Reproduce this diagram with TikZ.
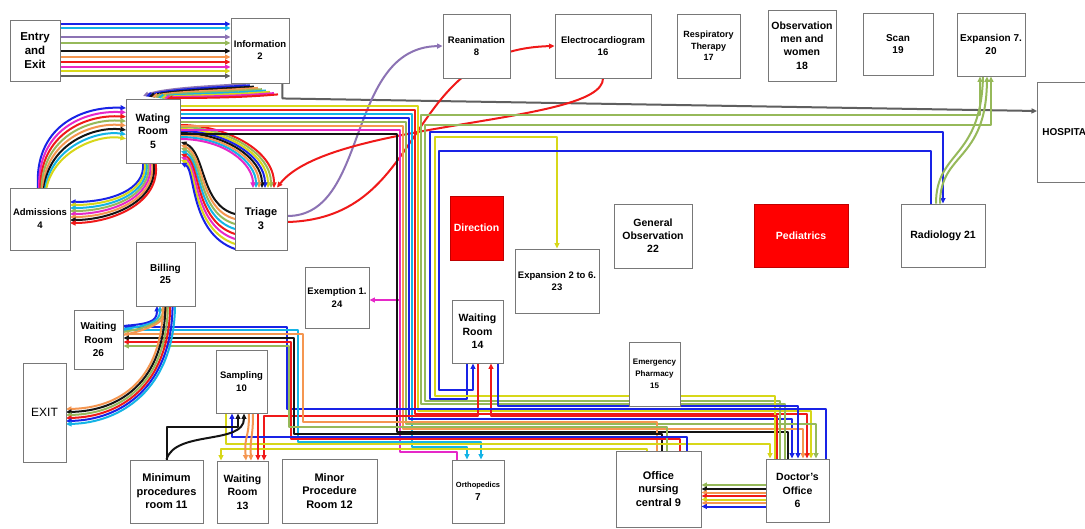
\documentclass[tikz,border=0pt]{standalone}
\usepackage{fontspec}
\setmainfont{Liberation Sans}
\usetikzlibrary{arrows.meta}
\pgfdeclarelayer{bg}
\pgfsetlayers{bg,main}
\definecolor{cB}{RGB}{25,35,230}
\definecolor{cC}{RGB}{20,180,230}
\definecolor{cP}{RGB}{140,115,180}
\definecolor{cG}{RGB}{150,185,90}
\definecolor{cK}{RGB}{20,20,20}
\definecolor{cO}{RGB}{245,150,80}
\definecolor{cR}{RGB}{240,25,25}
\definecolor{cM}{RGB}{230,40,200}
\definecolor{cY}{RGB}{215,215,25}
\definecolor{cGr}{RGB}{95,95,95}
\definecolor{boxc}{RGB}{120,120,120}
\definecolor{dred}{RGB}{255,0,0}
\newcommand\fsz[2]{\fontsize{#1}{#2}\selectfont}
\begin{document}
\begin{tikzpicture}[x=1pt,y=-1pt,
  ln/.style={line width=2pt,line join=round},
  ar/.style={-{Triangle[length=5.5pt,width=5pt]}},
  box/.style={draw=boxc,line width=0.9pt,fill=white,align=center,inner sep=1pt,font=\bfseries\fsz{10}{12.5}},
  rbox/.style={box,fill=dred,draw=dred!75!black,text=white}]
\useasboundingbox (0,0) rectangle (1085,529);
\clip (0,0) rectangle (1085,529);

% ---------- boxes ----------
\node[box,minimum width=50pt,minimum height=61pt,font=\bfseries\fsz{11.5}{14}] (entry) at (35,50.5) {Entry\\and\\Exit};
\node[box,minimum width=58pt,minimum height=65pt,font=\bfseries\fsz{9.5}{12}] (info) at (260,50.5) {Information\\2};
\node[box,minimum width=54pt,minimum height=64pt,font=\bfseries\fsz{10.5}{13.5}] (wr5) at (153,131) {Wating\\Room\\5};
\node[box,minimum width=60pt,minimum height=62pt,font=\bfseries\fsz{9.5}{13}] (adm) at (40,219) {Admissions\\4};
\node[box,minimum width=52pt,minimum height=62pt,font=\bfseries\fsz{11}{14}] (tri) at (261,219) {Triage\\3};
\node[box,minimum width=67pt,minimum height=64pt,font=\bfseries\fsz{9.5}{12}] (rea) at (476.5,46) {Reanimation\\8};
\node[box,minimum width=96pt,minimum height=64pt,font=\bfseries\fsz{9.5}{12}] (ecg) at (603,46) {Electrocardiogram\\16};
\node[box,minimum width=63pt,minimum height=64pt,font=\bfseries\fsz{9}{11.5}] (resp) at (708.5,46) {Respiratory\\Therapy\\17};
\node[box,minimum width=68pt,minimum height=71pt,font=\bfseries\fsz{10.5}{13.4}] (obs) at (802,45.5) {Observation\\men and\\women\\18};
\node[box,minimum width=70pt,minimum height=62pt] (scan) at (898,44) {Scan\\19};
\node[box,minimum width=68pt,minimum height=63pt] (exp7) at (991,44.5) {Expansion 7.\\20};
\node[box,anchor=west,inner xsep=3pt,minimum width=60pt,minimum height=100pt,align=left,text width=50pt] (hosp) at (1037,132) {HOSPITA};
\node[box,minimum width=84pt,minimum height=63pt,font=\bfseries\fsz{10.5}{13}] (rad) at (943,235.5) {Radiology 21};
\node[rbox,minimum width=94pt,minimum height=63pt,font=\bfseries\fsz{10.5}{13}] (ped) at (801,235.5) {Pediatrics};
\node[box,minimum width=78pt,minimum height=64pt,font=\bfseries\fsz{10.5}{13}] (gobs) at (653,236) {General\\Observation\\22};
\node[rbox,minimum width=53pt,minimum height=64pt,font=\bfseries\fsz{10.5}{13}] (dir) at (476.5,228) {Direction};
\node[box,minimum width=84pt,minimum height=64pt,inner sep=0pt,font=\bfseries\fsz{9.5}{12.5}] (exp23) at (557,281) {Expansion 2 to 6.\\23};
\node[box,minimum width=64pt,minimum height=61pt,font=\bfseries\fsz{9.5}{12.5}] (exm) at (337,297.5) {Exemption 1.\\24};
\node[box,minimum width=51pt,minimum height=63pt,font=\bfseries\fsz{10.5}{13.5}] (wr14) at (477.5,331.5) {Waiting\\Room\\14};
\node[box,minimum width=51pt,minimum height=64pt,font=\bfseries\fsz{8}{12}] (pharm) at (654.5,374) {Emergency\\Pharmacy\\15};
\node[box,minimum width=59pt,minimum height=64pt] (bill) at (165.5,274) {Billing\\25};
\node[box,minimum width=49pt,minimum height=59pt,font=\bfseries\fsz{10}{13.5}] (wr26) at (98.5,339.5) {Waiting\\Room\\26};
\node[box,minimum width=43pt,minimum height=99pt,font=\fsz{12}{14}] (exit) at (44.5,412.5) {EXIT};
\node[box,minimum width=51pt,minimum height=63pt,font=\bfseries\fsz{9.5}{12.5}] (samp) at (241.5,381.5) {Sampling\\10};
\node[box,minimum width=73pt,minimum height=63pt,font=\bfseries\fsz{11}{13.5}] (min11) at (166.5,491.5) {Minimum\\procedures\\room 11};
\node[box,minimum width=51pt,minimum height=62pt,font=\bfseries\fsz{10.5}{13.5}] (wr13) at (242.5,492) {Waiting\\Room\\13};
\node[box,minimum width=95pt,minimum height=64pt,font=\bfseries\fsz{11}{13.5}] (minor) at (329.5,491) {Minor\\Procedure\\Room 12};
\node[box,minimum width=52pt,minimum height=63pt,font=\bfseries\fsz{10}{13}] (ortho) at (478,491.5) {{\fsz{7.5}{9}Orthopedics}\\7};
\node[box,minimum width=85pt,minimum height=76pt,font=\bfseries\fsz{11}{13.5}] (off9) at (658.5,489) {Office\\nursing\\central 9};
\node[box,minimum width=63pt,minimum height=63pt,font=\bfseries\fsz{10.5}{13.5}] (doc) at (797.5,490.5) {Doctor's\\Office\\6};

% ---------- connectors ----------
\begin{pgfonlayer}{bg}
\fill[white] (0,0) rectangle (1085,529);
% Entry -> Information
\foreach \y/\c in {24/cB,28/cC,37/cP,43/cG,51/cK,57/cO,62/cR,67/cM,71/cY,76/cGr}
  \draw[ln,ar,\c] (entry.east |- 0,\y) -- (info.west |- 0,\y);
% Information -> Waiting room 5
\foreach \c [count=\i from 0] in {cP,cB,cK,cO,cG,cC,cY,cM,cR}
  \draw[ln,ar,\c] (246+4*\i,84+1.3*\i) .. controls (212+2*\i,86+1.6*\i) and (165+2*\i,88+1.2*\i) .. (143+3*\i,96+0.3*\i);
% Information -> Hospital
\draw[ln,ar,cGr] ([xshift=-7pt]info.south east) -- ++(0,15) -- (hosp.west |- 0,111);
% Admissions <-> Waiting room 5
\foreach \c [count=\i from 0] in {cB,cM,cR,cG,cO,cK,cC,cY}
  \draw[ln,ar,\c] (38+1.2*\i,188) .. controls (34+3*\i,128+3*\i) and (80+3*\i,106+4*\i) .. (126,108+4.4*\i);
\foreach \c [count=\i from 0] in {cB,cY,cC,cG,cM,cO,cK,cR}
  \draw[ln,ar,\c] (143+1.8*\i,163) .. controls (146+2.2*\i,190+2*\i) and (110,202+3*\i) .. (70,202+3*\i);
% Waiting room 5 <-> Triage
\foreach \c [count=\i from 0] in {cR,cG,cY,cB,cK,cO,cC,cM}
  \draw[ln,ar,\c] (180,125+2*\i) .. controls (225,125+2*\i) and (274-3*\i,150+2*\i) .. (274-3*\i,188);
\foreach \c [count=\i from 0] in {cK,cO,cG,cC,cR,cM,cY,cB}
  \draw[ln,ar,\c] (235,214+5*\i) .. controls (200-1.5*\i,205+4*\i) and (206-1.5*\i,152+2.5*\i) .. (181,142+3*\i);
% Triage -> Reanimation / Electrocardiogram, and back
\draw[ln,ar,cP] (tri.east |- 0,216) .. controls (370,216) and (345,48) .. (rea.west);
\draw[ln,ar,cR] (tri.east |- 0,222) .. controls (430,218) and (400,50) .. (ecg.west);
\draw[ln,ar,cR] (ecg.south) .. controls (603,125) and (330,120) .. (tri.north -| 277,0);
% Waiting room 5 bundle down to the bottom
\draw[ln,ar,cY] (wr5.east |- 0,106) -- (418,106) -- (418,411.5) -- (811,411.5) -- (doc.north -| 811,0);
\draw[ln,ar,cR] (wr5.east |- 0,110) -- (415,110) -- (415,414) -- (807,414) -- (doc.north -| 807,0);
\draw[ln,ar,cC] (wr5.east |- 0,114) -- (412,114) -- (412,446.5) -- (467,446.5) -- (ortho.north -| 467,0);
\draw[ln,ar,cB] (wr5.east |- 0,118) -- (409,118) -- (409,419) -- (792,419) -- (doc.north -| 792,0);
\draw[ln,ar,cG] (wr5.east |- 0,122) -- (406,122) -- (406,424) -- (816,424) -- (doc.north -| 816,0);
\draw[ln,ar,cO] (wr5.east |- 0,126) -- (403,126) -- (403,429) -- (803,429) -- (doc.north -| 803,0);
\draw[ln,cM] (wr5.east |- 0,130) -- (400,130) -- (400,451.5) -- (457,451.5) -- (ortho.north -| 457,0);
\draw[ln,ar,cM] (400,300) -- (exm.east |- 0,300);
\draw[ln,cK] (wr5.east |- 0,134) -- (397,134) -- (397,431.5) -- (788,431.5) -- (doc.north -| 788,0);
% return group to the right side
\draw[ln,ar,cG] (doc.north -| 785,0) -- (785,404) -- (421,404) -- (421,115) -- (980,115) -- (exp7.south -| 980,0);
\draw[ln,ar,cG] (doc.north -| 780,0) -- (780,401.5) -- (425,401.5) -- (425,125) -- (991,125) -- (exp7.south -| 991,0);
\draw[ln,ar,cB] (wr14.south -| 467,0) -- (467,399) -- (430,399) -- (430,132) -- (943,132) -- (rad.north -| 943,0);
\draw[ln,ar,cY] (doc.north -| 775,0) -- (775,396) -- (434.5,396) -- (434.5,137) -- (557,137) -- (exp23.north -| 557,0);
\draw[ln,ar,cB] (rad.north -| 931,0) -- (931,151) -- (439,151) -- (439,390) -- (473,390) -- (wr14.south -| 473,0);
\draw[ln,cG] (rad.north -| 936,0) .. controls (936,150) and (981,160) .. (exp7.south -| 983,0);
\draw[ln,ar,cG] (rad.north -| 940,0) .. controls (940,152) and (986,162) .. (exp7.south -| 987,0);
% Waiting room 14
\draw[ln,ar,cB] (wr14.south -| 498,0) -- (498,406.5) -- (798,406.5) -- (doc.north -| 798,0);
\draw[ln,ar,cR] (doc.north -| 777,0) -- (777,416.5) -- (491,416.5) -- (wr14.south -| 491,0);
\draw[ln,ar,cR] (wr14.south -| 478,0) -- (478,416.5) -- (264,416.5) -- (wr13.north -| 264,0);
% to Waiting room 26
\draw[ln,ar,cB] (doc.north -| 826,0) -- (826,409) -- (287,409) -- (287,327) -- (wr26.east |- 0,327);
\draw[ln,ar,cC] (wr26.east |- 0,330) -- (298,330) -- (298,441.5) -- (481,441.5) -- (ortho.north -| 481,0);
\draw[ln,ar,cO] (off9.north -| 657,0) -- (657,421.5) -- (303,421.5) -- (303,334) -- (wr26.east |- 0,334);
\draw[ln,ar,cK] (off9.north -| 662,0) -- (662,434) -- (294,434) -- (294,338) -- (wr26.east |- 0,338);
\draw[ln,ar,cR] (off9.north -| 680,0) -- (680,439) -- (291,439) -- (291,342) -- (wr26.east |- 0,342);
\draw[ln,ar,cG] (off9.north -| 667,0) -- (667,426.5) -- (289,426.5) -- (289,346) -- (wr26.east |- 0,346);
% Sampling / Waiting room 13 / Minimum procedures
\draw[ln,ar,cY] (samp.south -| 226,0) -- (226,444) -- (770,444) -- (doc.north -| 770,0);
\draw[ln,ar,cY] (off9.north -| 647,0) -- (647,449) -- (221,449) -- (wr13.north -| 221,0);
\draw[ln,ar,cB] (off9.north -| 687,0) -- (687,436.5) -- (232,436.5) -- (samp.south -| 232,0);
\draw[ln,ar,cR] (samp.south -| 258,0) -- (wr13.north -| 258,0);
\draw[ln,ar,cK] (min11.north) -- (166.5,427) -- (238,427) -- (samp.south -| 238,0);
\draw[ln,ar,cK] (min11.north) .. controls (175,430) and (244,445) .. (samp.south -| 244,0);
\draw[ln,ar,cO] (samp.south -| 249,0) .. controls (249,440) and (244,435) .. (wr13.north -| 246,0);
\draw[ln,ar,cO] (samp.south -| 253,0) .. controls (253,440) and (250,435) .. (wr13.north -| 251,0);
% Waiting room 26 <-> Billing <-> EXIT
\foreach \c [count=\i from 0] in {cB,cC,cG,cO}
  \draw[ln,ar,\c] (123,326+3*\i) .. controls (148,324+2*\i) and (157+3*\i,322) .. (157+3*\i,306);
\foreach \c [count=\i from 0] in {cO,cK,cG,cR,cB,cC}
  \draw[ln,ar,\c] (163+2.4*\i,306) .. controls (162+2.4*\i,380+2*\i) and (120,408+3*\i) .. (66,409+3*\i);
% Doctor's office -> Office nursing central
\foreach \y/\c in {485/cG,489/cK,492.5/cO,496/cR,499.5/cY,503/cO,506.5/cB}
  \draw[ln,ar,\c] (doc.west |- 0,\y) -- (off9.east |- 0,\y);
\end{pgfonlayer}
\end{tikzpicture}
\end{document}
